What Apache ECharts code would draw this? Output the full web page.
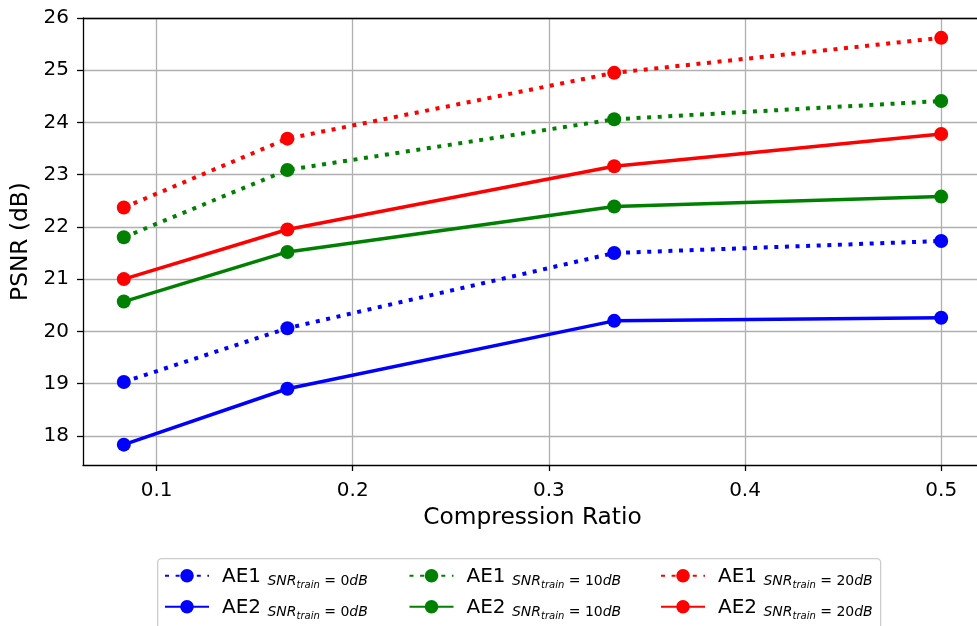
<!DOCTYPE html>
<html>
<head>
<meta charset="utf-8">
<script src="https://cdn.jsdelivr.net/npm/echarts@6/dist/echarts.min.js"></script>
<style>html,body{margin:0;padding:0;background:#fff;}#c{width:977px;height:626px;}</style>
</head>
<body>
<div id="c"></div>
<script>
// ---- data ----
const ratios = [0.0833, 0.1667, 0.3333, 0.5];
const ae1_0dB  = [19.03, 20.06, 21.50, 21.73];
const ae2_0dB  = [17.83, 18.90, 20.20, 20.26];
const ae1_10dB = [21.80, 23.09, 24.06, 24.41];
const ae2_10dB = [20.57, 21.52, 22.39, 22.58];
const ae1_20dB = [22.37, 23.69, 24.95, 25.62];
const ae2_20dB = [21.00, 21.95, 23.16, 23.78];
const xTicks = [0.1, 0.2, 0.3, 0.4, 0.5];
const yTicks = [18, 19, 20, 21, 22, 23, 24, 25, 26];
const seriesNames = ['AE1 0dB', 'AE1 10dB', 'AE1 20dB', 'AE2 0dB', 'AE2 10dB', 'AE2 20dB'];

const font = 'DejaVu Sans';
const pair = arr => ratios.map((r, i) => [r, arr[i]]);

function mkSeries(name, arr, color, dotted) {
  return {
    name: name, type: 'line', data: pair(arr),
    symbol: 'circle', symbolSize: 14,
    itemStyle: {color: color},
    lineStyle: {color: color, width: dotted ? 4 : 3.5, type: dotted ? [4, 6.6] : 'solid', cap: 'butt'},
    emphasis: {disabled: true},
    z: 3
  };
}

const colX = [164, 408.5, 660];
const rowY = [578, 609];
const legends = seriesNames.map((n, i) => ({
  data: [n],
  left: colX[i % 3],
  top: rowY[Math.floor(i / 3)] - 12.25,
  padding: 0,
  itemWidth: 44,
  itemHeight: 17,
  selectedMode: false,
  formatter: function (name) {
    const parts = name.split(' ');
    const db = parts[1].replace('dB', '');
    return '{ae|' + parts[0] + ' }{snr|SNR}{tr|train}{eq| = ' + db + '}{v|dB}';
  },
  textStyle: {
    fontFamily: font, color: '#000', padding: [0, 0, 0, 8],
    rich: {
      ae: {fontFamily: font, fontSize: 20, lineHeight: 20, verticalAlign: 'top', padding: [1.5, 0, 0, 0], color: '#000'},
      snr: {fontFamily: font, fontSize: 14, lineHeight: 14, fontStyle: 'italic', verticalAlign: 'top', padding: [8.7, 0, 0, 0], color: '#000'},
      tr: {fontFamily: font, fontSize: 10, lineHeight: 10, fontStyle: 'italic', verticalAlign: 'top', padding: [14.5, 0, 0, 0], color: '#000'},
      eq: {fontFamily: font, fontSize: 14, lineHeight: 14, verticalAlign: 'top', padding: [8.7, 0, 0, 0], color: '#000'},
      v: {fontFamily: font, fontSize: 14, lineHeight: 14, fontStyle: 'italic', verticalAlign: 'top', padding: [8.7, 0, 0, 0], color: '#000'}
    }
  }
}));

const option = {
  animation: false,
  backgroundColor: '#fff',
  grid: {left: 83, top: 18, width: 899, bottom: 161, containLabel: false, outerBoundsMode: 'none'},
  legend: legends,
  graphic: [{
    type: 'rect', left: 157, top: 558, z: -1,
    shape: {width: 723, height: 80, r: 4},
    style: {fill: '#fff', stroke: '#cccccc', lineWidth: 1.3}
  }],
  xAxis: [{
    type: 'value', min: 0.0625, max: 0.5208,
    name: 'Compression Ratio', nameLocation: 'middle', nameGap: 41,
    nameTextStyle: {fontFamily: font, fontSize: 23.3, color: '#000'},
    axisLine: {show: true, onZero: false, lineStyle: {color: '#000', width: 1.3}},
    axisTick: {show: true, length: 6, customValues: xTicks, lineStyle: {color: '#000', width: 1.3}},
    axisLabel: {customValues: xTicks, margin: 16, fontFamily: font, fontSize: 20, color: '#000',
      formatter: v => String(Math.round(v * 10) / 10)},
    splitLine: {show: true, lineStyle: {color: '#b0b0b0', width: 1.3}}
  }, {
    type: 'value', position: 'top', min: 0.0625, max: 0.5208,
    axisLine: {show: true, onZero: false, lineStyle: {color: '#000', width: 1.3}},
    axisTick: {show: false}, axisLabel: {show: false}, splitLine: {show: false}
  }],
  yAxis: {
    type: 'value', min: 17.44, max: 26,
    name: 'PSNR (dB)', nameLocation: 'middle', nameGap: 45, nameRotate: 90,
    nameTextStyle: {fontFamily: font, fontSize: 23.3, color: '#000'},
    axisLine: {show: true, onZero: false, lineStyle: {color: '#000', width: 1.3}},
    axisTick: {show: true, length: 6, customValues: yTicks, lineStyle: {color: '#000', width: 1.3}},
    axisLabel: {customValues: yTicks, margin: 14, fontFamily: font, fontSize: 20, color: '#000'},
    splitLine: {show: true, lineStyle: {color: '#b0b0b0', width: 1.3}}
  },
  series: [
    mkSeries('AE1 0dB', ae1_0dB, '#0000ff', true),
    mkSeries('AE2 0dB', ae2_0dB, '#0000ff', false),
    mkSeries('AE1 10dB', ae1_10dB, '#008000', true),
    mkSeries('AE2 10dB', ae2_10dB, '#008000', false),
    mkSeries('AE1 20dB', ae1_20dB, '#ff0000', true),
    mkSeries('AE2 20dB', ae2_20dB, '#ff0000', false)
  ]
};

const chart = echarts.init(document.getElementById('c'), null, {renderer: 'canvas'});
chart.setOption(option);
</script>
</body>
</html>
